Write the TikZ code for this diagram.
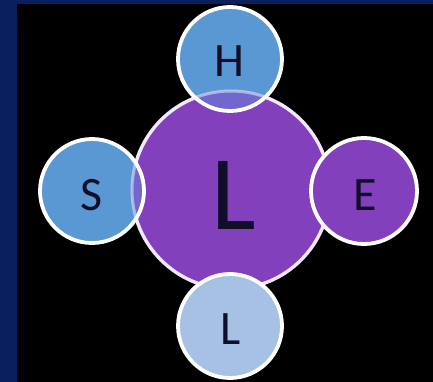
\documentclass[tikz,border=0pt]{standalone}
\usepackage{fontspec}
\setmainfont{Carlito}
\definecolor{navybg}{RGB}{10,31,94}
\definecolor{cblue}{RGB}{90,152,212}
\definecolor{cpurple}{RGB}{130,64,188}
\definecolor{clight}{RGB}{166,193,228}
\definecolor{cmix}{RGB}{112,104,206}
\definecolor{ctext}{RGB}{16,14,40}
\definecolor{cring}{RGB}{242,232,252}
\begin{document}
\begin{tikzpicture}[x=1pt,y=-1pt,
  ring/.style={draw=white,line width=3.8pt},
  bigring/.style={draw=cring,line width=3.4pt},
  lab/.style={text=ctext,font=\fontsize{48}{48}\selectfont,inner sep=0pt},
  biglab/.style={text=ctext,font=\fontsize{106}{106}\selectfont,inner sep=0pt}]
\useasboundingbox (0,0) rectangle (433,382);
\fill[navybg] (0,0) rectangle (433,382);
\fill[black] (17,4) rectangle (433,382);
% centre circle
\coordinate (c) at (231,190);
\fill[cpurple] (c) circle[radius=99];
\draw[bigring] (c) circle[radius=99];
% H (top) and S (left), see-through where they cover the centre
\coordinate (h) at (230,59);
\coordinate (s) at (92,191);
\foreach \p in {h,s}{
  \fill[cblue] (\p) circle[radius=52];
  \begin{scope}
    \clip (\p) circle[radius=52];
    \fill[cmix] (c) circle[radius=99];
    \draw[cring,line width=3pt,opacity=0.55] (c) circle[radius=99];
  \end{scope}
  \draw[ring] (\p) circle[radius=52];
}
% E (right) and L (bottom), opaque
\coordinate (e) at (364,191);
\coordinate (l) at (230,326);
\fill[cpurple] (e) circle[radius=53];
\draw[ring] (e) circle[radius=53];
\fill[clight] (l) circle[radius=52];
\draw[ring] (l) circle[radius=52];
% labels
\node[lab] (th) at (229,61) {H};
\node[lab] (ts) at (92,195) {S};
\node[lab] (te) at (365,195) {E};
\node[lab] (tl) at (231,329) {L};
\node[biglab] (tc) at (234,195) {L};
\end{tikzpicture}
\end{document}
